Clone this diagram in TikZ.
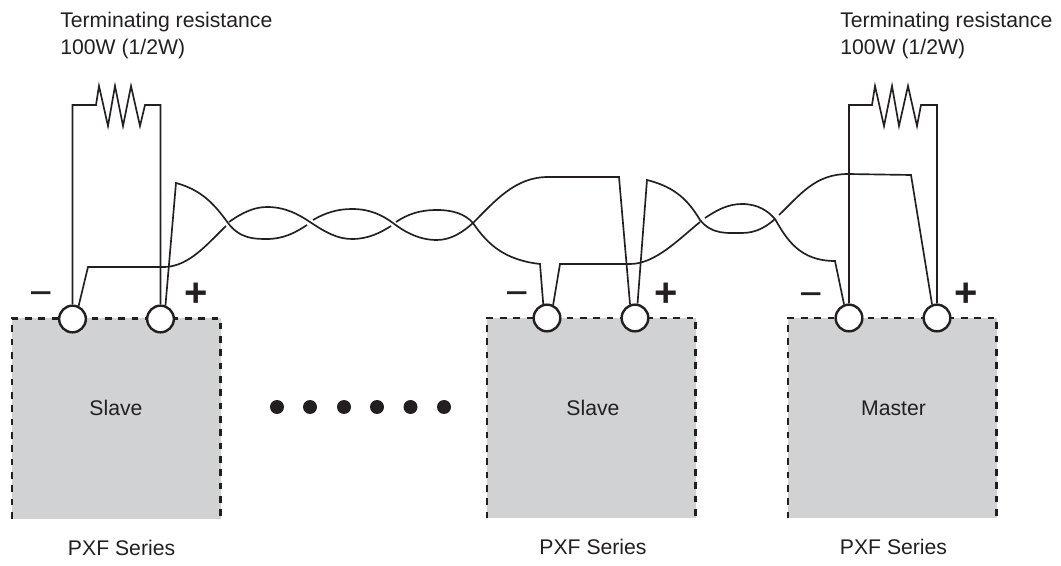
\documentclass[tikz,border=0pt]{standalone}
\usepackage{fontspec}
\setmainfont{Liberation Sans}
\definecolor{boxgray}{RGB}{208,210,212}
\definecolor{ink}{RGB}{35,31,32}
\tikzset{
  wire/.style={draw=ink,line width=1.25pt,line join=miter},
  term/.style={circle,draw=ink,fill=white,line width=1.8pt,minimum size=20pt,inner sep=0pt},
  dev/.style={fill=boxgray,draw=none,minimum width=156.5pt,minimum height=150.25pt,inner sep=0pt,outer sep=0pt,anchor=north west},
  edge dash/.style={draw=ink,line width=1.8pt,dash pattern=on 5pt off 5pt},
  lab/.style={font=\fontsize{15.9}{19.9}\selectfont,text=ink,inner sep=0pt},
  sign/.style={font=\bfseries\fontsize{30}{32}\selectfont,text=ink,inner sep=0pt},
  minussign/.style={font=\fontsize{30}{32}\selectfont,text=ink,inner sep=0pt},
  blob/.style={circle,fill=ink,minimum size=10.5pt,inner sep=0pt}
}
\begin{document}
\begin{tikzpicture}[x=0.75pt,y=-0.75pt]
\useasboundingbox (0,0) rectangle (1061,566);
% devices
\node[dev] (d1) at (12,318.5) {};
\node[dev] (d2) at (487,318) {};
\node[dev] (d3) at (788,318) {};
\foreach \b in {d1,d2,d3}{
  \draw[edge dash] (\b.south west) -- (\b.north west) -- (\b.north east) -- (\b.south east);
}
\node[lab] (n1) at (116,408) {Slave};
\node[lab] (n2) at (593,408) {Slave};
\node[lab] (n3) at (893.5,408) {Master};
\node[lab] (p1) at (121.6,548) {PXF Series};
\node[lab] (p2) at (593,547) {PXF Series};
\node[lab] (p3) at (893.5,547) {PXF Series};
% terminals
\node[term] (A1) at (72.5,319) {};
\node[term] (A2) at (160.5,319) {};
\node[term] (B1) at (547,318) {};
\node[term] (B2) at (635,318) {};
\node[term] (C1) at (849,318) {};
\node[term] (C2) at (937,318) {};
% resistors
\draw[wire] (A1.north) -- (72.5,105) -- (96,105) -- (99,86) -- (108,126) -- (115,86) -- (123,126) -- (131,86) -- (140,126) -- (145,105) -- (160.5,105) -- (A2.north);
\draw[wire] (C1.north) |- (872,105) -- (875,86) -- (884,126) -- (892,86) -- (899,126) -- (908,86) -- (917,126) -- (921,105) -- (937,105) -- (C2.north);
% twisted pair, left
\draw[wire] (A2.70) -- (176,183) .. controls (202,190) and (215,205) .. (228,223)
  .. controls (240,239) and (255,239) .. (267,239)
  .. controls (283,239) and (295,233) .. (307,225);
\draw[wire] (A1.65) -- (88,267) -- (165,267)
  .. controls (190,266) and (208,243) .. (226,226);
\draw[wire] (229,222) .. controls (243,212) and (255,207) .. (267,207)
  .. controls (285,207) and (298,214) .. (310,222)
  .. controls (325,232) and (337,239) .. (352,239)
  .. controls (368,239) and (380,233) .. (391,226);
\draw[wire] (313,220) .. controls (325,213) and (337,209) .. (352,209)
  .. controls (370,209) and (382,215) .. (393,223)
  .. controls (406,233) and (420,240) .. (437,240)
  .. controls (452,240) and (464,231) .. (473,223)
  .. controls (495,201) and (515,177) .. (548,177) -- (619,177) -- (B2.110);
\draw[wire] (396,222) .. controls (408,214) and (420,210) .. (437,210)
  .. controls (453,210) and (465,214) .. (473,223)
  .. controls (488,245) and (505,260) .. (540,264) -- (B1.105);
% middle to right
\draw[wire] (B1.65) -- (560,264) -- (630,264)
  .. controls (655,264) and (678,240) .. (700,222);
\draw[wire] (B2.80) -- (647,180)
  .. controls (675,187) and (688,200) .. (700,220)
  .. controls (712,235) and (728,233) .. (742,233)
  .. controls (757,233) and (767,226) .. (775,219);
\draw[wire] (705,218) .. controls (717,210) and (728,204) .. (742,204)
  .. controls (758,204) and (768,211) .. (775,219)
  .. controls (787,240) and (800,261) .. (835,261) -- (C1.110);
\draw[wire] (779,215) .. controls (800,195) and (815,174) .. (848,174) -- (911,175) -- (C2.110);
% signs
\node[minussign] (s1) at (41,299) {\textminus};
\node[sign] (s2) at (196,295) {+};
\node[minussign] (s3) at (517,299) {\textminus};
\node[sign] (s4) at (666,295) {+};
\node[minussign] (s5) at (811,300) {\textminus};
\node[sign] (s6) at (966.5,295) {+};
% dots
\foreach \x/\i in {277/1,310/2,344/3,377/4,410.5/5,444/6}{\node[blob] (dot\i) at (\x,407) {};}
% labels
\node[lab,align=left,anchor=north west] (t1) at (60,12) {Terminating resistance\\100W (1/2W)};
\node[lab,align=left,anchor=north west] (t2) at (840,12) {Terminating resistance\\100W (1/2W)};
\end{tikzpicture}
\end{document}
